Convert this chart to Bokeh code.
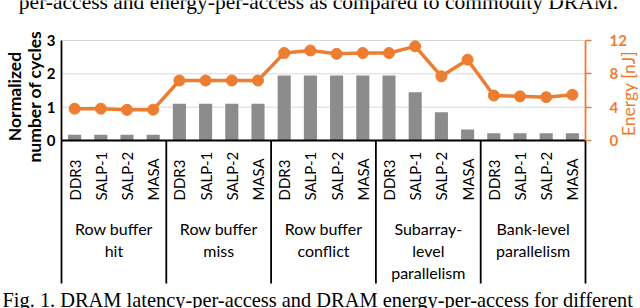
import math
from bokeh.plotting import figure
from bokeh.models import Range1d, LinearAxis, FixedTicker, ColumnDataSource
from bokeh.core.properties import value
from bokeh.embed import file_html
from bokeh.resources import INLINE

# ---------------- data ----------------
designs = ["DDR3", "SALP-1", "SALP-2", "MASA"]
group_names = [
    ["Row buffer", "hit"],
    ["Row buffer", "miss"],
    ["Row buffer", "conflict"],
    ["Subarray-", "level", "parallelism"],
    ["Bank-level", "parallelism"],
]
cycles = [0.17, 0.17, 0.17, 0.17,
          1.10, 1.10, 1.10, 1.10,
          1.95, 1.95, 1.95, 1.95,
          1.95, 1.45, 0.85, 0.33,
          0.22, 0.22, 0.22, 0.22]
energy = [3.82, 3.82, 3.68, 3.70,
          7.20, 7.20, 7.20, 7.20,
          10.5, 10.8, 10.4, 10.5,
          10.5, 11.3, 7.70, 9.70,
          5.40, 5.30, 5.20, 5.50]
left_ticks = [0, 1, 2, 3]
right_ticks = [0, 4, 8, 12]
left_title = ["Normalized", "number of cycles"]
right_title = "Energy [nJ]"
caption_top = "per-access and energy-per-access as compared to commodity DRAM."
caption_bottom = "Fig. 1.  DRAM latency-per-access and DRAM energy-per-access for different"

# ---------------- styling ----------------
ORANGE = "#ED7D31"
GRAY = "#8C8C8C"
GRID = "#D9D9D9"
FONT = "Lato"
SERIF = "Liberation Serif"

W, H = 640, 308
n_per = len(designs)
n = len(cycles)
xs = [i + 0.5 for i in range(n)]

# canvas-pixel -> data helpers (plot body: x 61..585, y 40..140)
PX0, PXS = 61.0, 524.0 / n
PY0, PYS = 140.0, 100.0 / max(left_ticks)
def dx(px):
    return (px - PX0) / PXS
def dy(py):
    return (PY0 - py) / PYS

e_scale = max(right_ticks) / max(left_ticks)
y_bot = dy(283)   # bottom end of the group separators

p = figure(width=W, height=H, output_backend="svg", toolbar_location=None,
           x_range=Range1d(dx(0), dx(W)),
           y_range=Range1d(dy(H), dy(0)),
           x_axis_location=None, y_axis_location=None,
           min_border_left=0, min_border_right=0, min_border_top=0, min_border_bottom=0)
p.extra_y_ranges = {"e": Range1d(dy(H) * e_scale, dy(0) * e_scale)}
p.outline_line_color = None
p.background_fill_color = "white"
p.border_fill_color = "white"
p.grid.visible = False

# horizontal gridlines inside the plot body
gl = left_ticks[1:]
p.segment(x0=[0] * len(gl), y0=gl, x1=[n] * len(gl), y1=gl,
          line_color=GRID, line_width=1)

# left axis
ya = LinearAxis(ticker=FixedTicker(ticks=left_ticks), fixed_location=0,
                bounds=(0, max(left_ticks)))
ya.axis_line_color = "black"
ya.axis_line_width = 1.8
ya.major_tick_out = 0
ya.major_tick_in = 0
ya.minor_tick_line_color = None
ya.major_label_standoff = 6
ya.major_label_text_font = FONT
ya.major_label_text_font_style = "bold"
ya.major_label_text_font_size = "15px"
ya.major_label_text_color = "black"
p.add_layout(ya, "left")

# right axis
ra = LinearAxis(y_range_name="e", ticker=FixedTicker(ticks=right_ticks),
                fixed_location=n, bounds=(0, max(right_ticks)))
ra.axis_line_color = ORANGE
ra.axis_line_width = 1.8
ra.major_tick_line_color = ORANGE
ra.major_tick_line_width = 1.5
ra.major_tick_out = 6
ra.major_tick_in = 0
ra.minor_tick_line_color = None
ra.major_label_standoff = 18
ra.major_label_text_font = FONT
ra.major_label_text_font_style = "bold"
ra.major_label_text_font_size = "15px"
ra.major_label_text_color = ORANGE
p.add_layout(ra, "right")

# bars
p.vbar(x=xs, top=cycles, bottom=0, width=0.5, fill_color=GRAY, line_color=None)

# x axis line and group separators
p.segment(x0=[0], y0=[0], x1=[n], y1=[0], line_color="black", line_width=1.8)
seps = [g * n_per for g in range(0, len(group_names) + 1)]
p.segment(x0=seps, y0=[0] * len(seps), x1=seps, y1=[y_bot] * len(seps),
          line_color="black", line_width=1.8)

# energy line
p.line(xs, energy, y_range_name="e", line_color=ORANGE, line_width=3.5)
p.scatter(xs, energy, y_range_name="e", size=11, fill_color=ORANGE, line_color=ORANGE)

# category labels (rotated)
cat_src = ColumnDataSource(dict(x=xs, y=[dy(200)] * n, t=designs * len(group_names)))
p.text(x="x", y="y", text="t", source=cat_src, angle=math.pi / 2,
       text_align="left", text_baseline="middle",
       text_font=value(FONT), text_font_size="15px", text_color="black")

# group labels
gx, gy, gt = [], [], []
for gi, lines in enumerate(group_names):
    for li, t in enumerate(lines):
        gx.append(gi * n_per + n_per / 2)
        gy.append(dy(228 + 22 * li))
        gt.append(t)
p.text(x=gx, y=gy, text=gt, text_align="center", text_baseline="middle",
       text_font=value(FONT), text_font_size="16px", text_color="black")

# axis titles
p.text(x=[dx(14), dx(34)], y=[dy(96)] * 2, text=left_title, angle=math.pi / 2,
       text_align="center", text_baseline="middle",
       text_font=value(FONT), text_font_style="bold", text_font_size="17.5px",
       text_color="black")
p.text(x=[dx(628)], y=[dy(93)], text=[right_title], angle=math.pi / 2,
       text_align="center", text_baseline="middle",
       text_font=value(FONT), text_font_size="17.5px", text_color=ORANGE)

# caption fragments of the surrounding page (cut by the picture's edges)
p.text(x=[dx(318)], y=[dy(1)], text=[caption_top], text_align="center",
       text_baseline="alphabetic", text_font=value(SERIF),
       text_font_size="21.5px", text_color="black")
p.text(x=[dx(2)], y=[dy(299)], text=[caption_bottom], text_align="left",
       text_baseline="alphabetic", text_font=value(SERIF),
       text_font_size="20.4px", text_color="black")

open("out.html", "w").write(file_html(p, INLINE))
